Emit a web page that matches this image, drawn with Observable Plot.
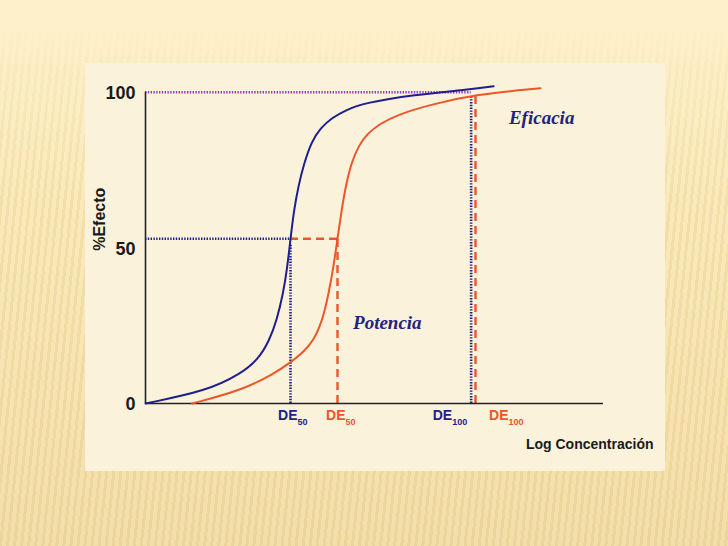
<!DOCTYPE html>
<html><head><meta charset="utf-8">
<script src="https://cdn.jsdelivr.net/npm/d3@7"></script>
<script src="https://cdn.jsdelivr.net/npm/@observablehq/plot@0.6"></script>
<style>
html,body{margin:0;padding:0;}
body{width:728px;height:546px;position:relative;overflow:hidden;background:#fdf0ca;}
#bg{position:absolute;left:0;top:0;width:728px;height:546px;
 background:
  linear-gradient(to bottom, #fdf0ca 0px, #fdf0ca 28px, rgba(253,240,202,0.55) 70px, rgba(253,240,202,0) 200px),
  repeating-linear-gradient(96deg, rgba(230,205,140,0.30) 0px, rgba(230,205,140,0.30) 3px, rgba(255,245,210,0.22) 3px, rgba(255,245,210,0.22) 7px),
  linear-gradient(to bottom, #fbecc0 0px, #f6e3ae 300px, #efd89f 546px);}
#panel{position:absolute;left:85px;top:63px;width:580px;height:408px;background:#fbf2dc;}
#chart{position:absolute;left:0;top:0;}
</style></head><body>
<div id="bg"></div><div id="panel"></div><div id="chart"></div>
<script>
// Blue curve (log concentration, % efecto)
const blueX = [0, 1.347, 2.074, 2.45, 2.70, 2.87, 3.00, 3.09, 3.166, 3.24, 3.34, 3.46, 3.62, 3.82, 4.07, 4.37, 4.76, 5.85, 7.10, 7.60];
const blueY = [0, 4.1, 9.5, 14, 20, 27, 35, 43, 52.9, 62, 70, 77, 84, 88.5, 91.8, 94.2, 96.5, 99.2, 100.9, 101.9];
// Red curve
const redX = [1.020, 2.074, 2.801, 3.166, 3.45, 3.675, 3.80, 3.90, 4.00, 4.10, 4.192, 4.28, 4.38, 4.50, 4.66, 4.84, 5.10, 5.50, 6.22, 7.205, 8.624];
const redY = [0, 4.1, 9.5, 13.2, 16.5, 20.5, 24.5, 29, 35.5, 43.5, 52.9, 62, 70.5, 77.5, 83, 86.6, 89.7, 92.8, 96, 99.3, 101.3];
// Characteristic doses
const deNames = ["DE", "DE", "DE", "DE"];
const deSubs = ["50", "50", "100", "100"];
const deSeries = ["blue", "red", "blue", "red"];
const deX = [3.166, 4.192, 7.11, 7.205];
const deTop = [52.9, 52.9, 100.9, 99.3];
const halfLevel = 52.9;
const fullLevel = 100;
// Y ticks
const yTicks = [0, 50, 100];
const yTickLabels = ["0", "50", "100"];

const BLUE = "#1e1e8c", RED = "#ee5529", PURPLE = "#9b36d2";
const colorOf = s => s === "blue" ? BLUE : RED;
const SANS = "Liberation Sans, Arial, sans-serif";
const SERIF = "Liberation Serif, Times New Roman, serif";

const blue = blueX.map((x, i) => ({x, y: blueY[i]}));
const red = redX.map((x, i) => ({x, y: redY[i]}));
const de = deX.map((x, i) => ({x, top: deTop[i], name: deNames[i], sub: deSubs[i], series: deSeries[i]}));
const labelDx = [7, 8, -19, 33];
const ticks = yTicks.map((v, i) => ({v, label: yTickLabels[i]}));

const dotted = {strokeWidth: 2.6, strokeDasharray: "1.4 1.4"};
const dashed = {strokeWidth: 2.4, strokeDasharray: "8 5"};

const deLabelMarks = de.flatMap((d, i) => [
  Plot.text([d], {x: "x", frameAnchor: "bottom", text: "name", textAnchor: "end", dx: labelDx[i],
    dy: 16, fontSize: 14, fontWeight: "bold", fill: colorOf(d.series), fontFamily: SANS}),
  Plot.text([d], {x: "x", frameAnchor: "bottom", text: "sub", textAnchor: "start", dx: labelDx[i],
    dy: 21, fontSize: 9, fontWeight: "bold", fill: colorOf(d.series), fontFamily: SANS})
]);

const chart = Plot.plot({
  width: 728, height: 546,
  marginLeft: 145, marginRight: 125, marginTop: 91.7, marginBottom: 143,
  style: {background: "transparent", overflow: "visible"},
  x: {domain: [0, 10], axis: null},
  y: {domain: [0, 100], axis: null},
  marks: [
    // reference lines
    Plot.ruleY([fullLevel], {x1: 0, x2: de[2].x, stroke: PURPLE, ...dotted}),
    Plot.ruleY([halfLevel], {x1: 0, x2: de[0].x, stroke: BLUE, ...dotted}),
    Plot.ruleY([halfLevel], {x1: de[0].x, x2: de[1].x, stroke: RED, ...dashed}),
    Plot.ruleX(de.filter(d => d.series === "blue"), {x: "x", y1: 0, y2: "top", stroke: BLUE, insetBottom: -6, ...dotted}),
    Plot.ruleX(de.filter(d => d.series === "red"), {x: "x", y1: 0, y2: "top", stroke: RED, ...dashed}),
    // axes
    Plot.ruleX([0], {y1: 0, y2: 100, stroke: "#222", strokeWidth: 1.6}),
    Plot.ruleY([0], {x1: 0, x2: 10, stroke: "#222", strokeWidth: 1.6}),
    // curves
    Plot.line(blue, {x: "x", y: "y", stroke: BLUE, strokeWidth: 2, curve: "basis"}),
    Plot.line(red, {x: "x", y: "y", stroke: RED, strokeWidth: 2, curve: "basis"}),
    // y tick labels
    Plot.text(ticks, {x: 0, y: "v", text: "label", textAnchor: "end", dx: -10, dy: 1,
      fontSize: 18, fontWeight: "bold", fill: "#1a1a1a", fontFamily: SANS}),
    // DE labels
    ...deLabelMarks,
    // axis titles
    Plot.text(["Log Concentración"], {frameAnchor: "bottom-right", textAnchor: "end", dx: 50, dy: 45,
      fontSize: 14, fontWeight: "bold", fill: "#1a1a1a", fontFamily: SANS}),
    Plot.text(["%Efecto"], {frameAnchor: "left", rotate: -90, dx: -46, dy: 3,
      fontSize: 16, fontWeight: "bold", fill: "#1a1a1a", fontFamily: SANS}),
    // annotations
    Plot.text(["Eficacia"], {x: 8.65, y: 91.6, fontSize: 19, fontWeight: "bold", fontStyle: "italic",
      fill: "#23237f", fontFamily: SERIF}),
    Plot.text(["Potencia"], {x: 5.28, y: 26, fontSize: 19, fontWeight: "bold", fontStyle: "italic",
      fill: "#23237f", fontFamily: SERIF})
  ]
});
document.getElementById("chart").append(chart);
</script>
</body></html>
